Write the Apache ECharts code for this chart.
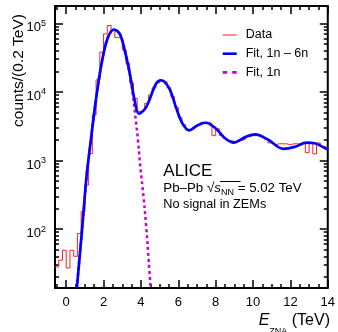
<!DOCTYPE html>
<html><head><meta charset="utf-8">
<script src="https://cdn.jsdelivr.net/npm/echarts@6/dist/echarts.min.js"></script>
<style>html,body{margin:0;padding:0;background:#fff}#c{width:338px;height:332px}</style>
</head><body><div id="c"></div>
<script>
// Histogram: bins of 0.2 TeV starting at -0.6 TeV
const binStart = -0.6;
const binWidth = 0.2;
const dataCounts = [
  28, 35, 49, 27, 49, 40, 86, 180, 437, 1260,
  4600, 15000, 38000, 70000, 93000, 80000, 62000, 60000, 41000, 26000,
  13500, 8000, 5200, 5300, 6800, 9000, 11500, 13500, 14500, 14000,
  11500, 8500, 6000, 4200, 3300, 2800, 2850, 3100, 3350, 3600,
  3600, 3500, 2300, 2900, 2300, 2100, 1950, 1900, 1900, 1950,
  2050, 2250, 2300, 2300, 2350, 2200, 2050, 1800, 1700, 1750,
  1750, 1750, 1700, 1750, 1750, 1750, 1800, 1300, 1800, 1250,
  1800, 1600, 1550
];
// Fit, 1n - 6n
const fitAllE = [0.57, 0.85, 1.1, 1.3, 1.5, 1.65, 1.8, 2.0, 2.24, 2.55, 2.86, 3.13, 3.40, 3.66, 3.89, 4.28, 4.81, 5.08, 5.52, 5.87, 6.22, 6.58, 7.02, 7.46, 7.99, 8.52, 8.97, 9.59, 10.12, 10.82, 11.62, 12.24, 12.86, 13.30, 13.92, 14.0];
const fitAllV = [13.8, 100, 630, 1800, 5000, 10000, 18600, 36300, 63000, 81300, 70800, 40700, 18600, 7600, 4800, 6000, 13200, 14800, 11200, 6000, 3470, 2750, 3240, 3550, 2950, 2090, 1820, 2190, 2400, 2000, 1480, 1580, 1820, 1780, 1480, 1450];
// Fit, 1n
const fit1nE = [0.57, 0.85, 1.1, 1.3, 1.5, 1.65, 1.8, 2.0, 2.24, 2.55, 2.86, 3.13, 3.40, 3.55, 3.71, 3.84, 3.96, 4.14, 4.28, 4.42, 4.52];
const fit1nV = [13.8, 100, 630, 1800, 5000, 10000, 18600, 36300, 63000, 81300, 70800, 40700, 18600, 10000, 4200, 2000, 850, 290, 110, 33, 13.5];
// Axis ticks / labels
const xTickLabels = [0, 2, 4, 6, 8, 10, 12, 14];
const yTickLabels = [100, 1000, 10000, 100000];

const xMin = -0.6, xMax = 14, yMin = 13.8, yMax = 179000;

const histData = dataCounts.map((v, i) => [Math.round((binStart + i * binWidth) * 100) / 100, v]);
histData.push([Math.round((binStart + dataCounts.length * binWidth) * 100) / 100, dataCounts[dataCounts.length - 1]]);
const fitAll = fitAllE.map((e, i) => [e, fitAllV[i]]);
const fit1n = fit1nE.map((e, i) => [e, fit1nV[i]]);

const xMinor = [];
for (let k = -1; k <= 28; k++) { const v = k * 0.5; if (v >= xMin && v <= xMax && !xTickLabels.includes(v)) xMinor.push(v); }
const yMinor = [];
for (let p = 1; p <= 5; p++) for (let m = 2; m <= 9; m++) { const v = m * Math.pow(10, p); if (v >= yMin && v <= yMax) yMinor.push(v); }

const FONT = '"Liberation Sans", Arial, Helvetica, sans-serif';
const tickStyle = { color: '#000', width: 1.5 };

function xAx(pos, major) {
  return {
    type: 'value', min: xMin, max: xMax, position: pos, gridIndex: 0,
    axisLine: { show: false, onZero: false }, splitLine: { show: false },
    axisTick: { show: true, inside: true, length: major ? 8 : 4, customValues: major ? xTickLabels : xMinor, lineStyle: tickStyle },
    axisLabel: (major && pos === 'bottom') ? { show: true, customValues: xTickLabels, color: '#000', fontSize: 13, fontFamily: FONT, margin: 8 } : { show: false }
  };
}
function yAx(pos, major) {
  return {
    type: 'log', logBase: 10, min: yMin, max: yMax, position: pos, gridIndex: 0,
    axisLine: { show: false, onZero: false }, splitLine: { show: false },
    axisTick: { show: true, inside: true, length: major ? 8 : 4, customValues: major ? yTickLabels : yMinor, lineStyle: tickStyle },
    axisLabel: (major && pos === 'left') ? {
      show: true, customValues: yTickLabels, margin: 9, padding: [9, 0, 0, 0],
      formatter: v => '{b|10}{s|' + Math.round(Math.log10(v)) + '}',
      rich: {
        b: { fontSize: 13, fontFamily: FONT, color: '#000', lineHeight: 18 },
        s: { fontSize: 9, fontFamily: FONT, color: '#000', lineHeight: 10, verticalAlign: 'top' }
      }
    } : { show: false }
  };
}

const solidIcon = 'path://M0,0H14V2.6H0Z';
const thinIcon = 'path://M0,0H14V1.8H0Z';
const dashIcon = 'path://M0,0H4.5V2.6H0ZM9.5,0H14V2.6H9.5Z';

const chart = echarts.init(document.getElementById('c'), null, { renderer: 'canvas' });
chart.setOption({
  animation: false,
  backgroundColor: '#fff',
  grid: { left: 55, right: 10, top: 6, bottom: 44, show: true, borderColor: '#000', borderWidth: 2, backgroundColor: 'transparent', containLabel: false },
  xAxis: [xAx('bottom', true), xAx('bottom', false), xAx('top', true), xAx('top', false)],
  yAxis: [yAx('left', true), yAx('left', false), yAx('right', true), yAx('right', false)],
  legend: {
    show: true, type: 'plain', orient: 'vertical', left: 222.7, top: 28.5, right: 'auto', bottom: 'auto',
    padding: 0, itemWidth: 14, itemHeight: 12, itemGap: 5.7,
    itemStyle: { borderWidth: 0 },
    textStyle: { fontSize: 12.5, fontFamily: FONT, color: '#000', padding: [0, 0, 0, 4] },
    data: [
      { name: 'Data', icon: thinIcon, itemStyle: { color: '#ff8080', borderWidth: 0 } },
      { name: 'Fit, 1n – 6n', icon: solidIcon, itemStyle: { color: '#0000ff', borderWidth: 0 } },
      { name: 'Fit, 1n', icon: dashIcon, itemStyle: { color: '#cc00cc', borderWidth: 0 } }
    ]
  },
  series: [
    { name: 'Data', type: 'line', step: 'end', data: histData, symbol: 'none', showSymbol: false,
      color: '#ff3030', lineStyle: { color: '#ff2020', width: 1 }, z: 2, clip: true },
    { name: 'Fit, 1n', type: 'line', data: fit1n, smooth: 0.35, symbol: 'none', showSymbol: false,
      color: '#cc00cc', lineStyle: { color: '#cc00cc', width: 2.5, type: [3, 3] }, z: 3, clip: true },
    { name: 'Fit, 1n – 6n', type: 'line', data: fitAll, smooth: 0.35, symbol: 'none', showSymbol: false,
      color: '#0000ff', lineStyle: { color: '#0000ff', width: 2.7 }, z: 4, clip: true }
  ],
  graphic: [
    { type: 'text', x: 18.5, y: 70.5, rotation: Math.PI / 2,
      style: { text: 'counts/(0.2 TeV)', font: '15.5px ' + FONT, fill: '#000', align: 'center', verticalAlign: 'middle' } },
    { type: 'text', x: 163.3, y: 171.5,
      style: { text: 'ALICE', font: '17px ' + FONT, fill: '#000', align: 'left', verticalAlign: 'middle' } },
    { type: 'text', x: 163.3, y: 188,
      style: { text: '{n|Pb–Pb }{r|√}{i|s}{sub|NN}{n| = 5.02 TeV}', align: 'left', verticalAlign: 'middle',
        rich: {
          n: { fontSize: 13.3, fontFamily: FONT, fill: '#000', lineHeight: 18 },
          r: { fontSize: 13.5, fontFamily: FONT, fill: '#000', lineHeight: 18 },
          i: { fontSize: 13.3, fontFamily: FONT, fontStyle: 'italic', fill: '#000', lineHeight: 18 },
          sub: { fontSize: 9, fontFamily: FONT, fill: '#000', lineHeight: 9, verticalAlign: 'bottom' }
        } } },
    { type: 'line', shape: { x1: 220, y1: 181.5, x2: 240.5, y2: 181.5 }, style: { stroke: '#000', lineWidth: 1 } },
    { type: 'text', x: 163.3, y: 204.3,
      style: { text: 'No signal in ZEMs', font: '12.7px ' + FONT, fill: '#000', align: 'left', verticalAlign: 'middle' } },
    { type: 'text', x: 330, y: 321,
      style: { text: '{i|E}{sub|ZNA}{n| (TeV)}', align: 'right', verticalAlign: 'middle',
        rich: {
          n: { fontSize: 16, fontFamily: FONT, fill: '#000', lineHeight: 30 },
          i: { fontSize: 16, fontFamily: FONT, fontStyle: 'italic', fill: '#000', lineHeight: 30 },
          sub: { fontSize: 9, fontFamily: FONT, fill: '#000', lineHeight: 11, verticalAlign: 'bottom' }
        } } }
  ]
});
</script>
</body></html>
